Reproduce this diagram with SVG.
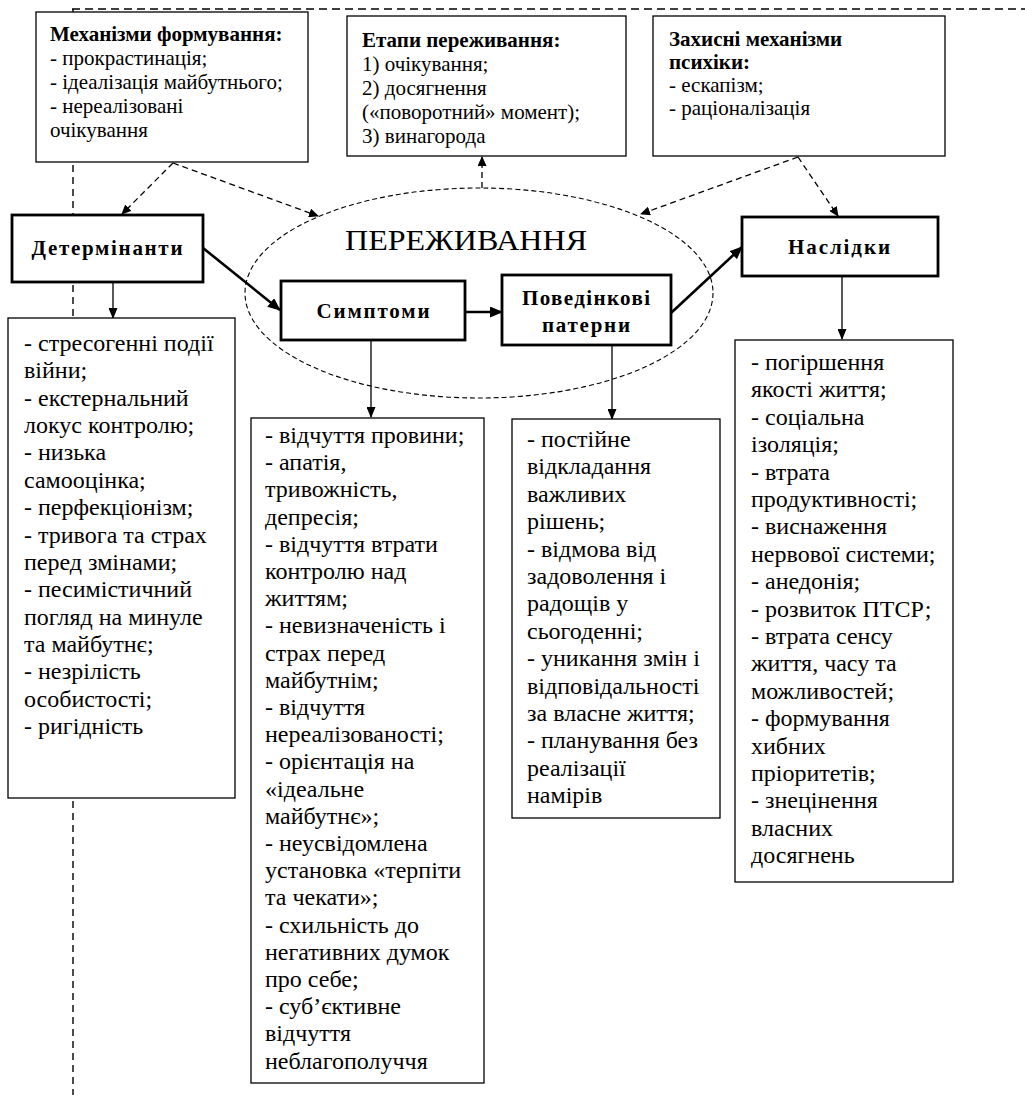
<svg xmlns="http://www.w3.org/2000/svg" width="1025" height="1100" viewBox="0 0 1025 1100">
<style>
text{font-family:"Liberation Serif","DejaVu Serif",serif;fill:#000}
.box{fill:#fff;stroke:#000;stroke-width:1.3}
.nbox{fill:#fff;stroke:#000;stroke-width:2.8}
.top{font-size:21px}
.lst{font-size:24px}
.b{font-weight:bold}
.lbl{font-size:21px;font-weight:bold;text-anchor:middle}
.frame{fill:none;stroke:#000;stroke-width:1.4;stroke-dasharray:8 5}
.dash{fill:none;stroke:#000;stroke-width:1.3;stroke-dasharray:6 4}
.thick{fill:none;stroke:#000;stroke-width:2.6}
.thin{fill:none;stroke:#000;stroke-width:1.3}
</style>
<defs>
<marker id="ah" markerUnits="userSpaceOnUse" markerWidth="13" markerHeight="11" refX="12" refY="5.5" orient="auto"><path d="M0,0 L13,5.5 L0,11 z" fill="#000"/></marker>
<marker id="as" markerUnits="userSpaceOnUse" markerWidth="11" markerHeight="9" refX="10" refY="4.5" orient="auto"><path d="M0,0 L11,4.5 L0,9 z" fill="#000"/></marker>
<marker id="ad" markerUnits="userSpaceOnUse" markerWidth="10" markerHeight="9" refX="9" refY="4.5" orient="auto"><path d="M0,0 L10,4.5 L0,9 z" fill="#000"/></marker>
</defs>
<rect width="1025" height="1100" fill="#fff"/>
<g id="frame">
<path class="frame" d="M72,9 H1025"/>
<path class="frame" d="M73,9 V1095" style="stroke-dasharray:7 5"/>
</g>
<g id="perezhyvannia">
<ellipse cx="479" cy="293" rx="234" ry="105" fill="none" stroke="#000" stroke-width="1.1" stroke-dasharray="5 3"/>
<text x="466" y="250" font-size="29" text-anchor="middle" textLength="242" lengthAdjust="spacingAndGlyphs">ПЕРЕЖИВАННЯ</text>
</g>
<g id="connectors">
<path class="dash" d="M173,163 L122,214" marker-end="url(#ad)"/>
<path class="dash" d="M173,163 L318,216" marker-end="url(#ad)"/>
<path class="dash" d="M482,188 L482,157" marker-end="url(#ad)"/>
<path class="dash" d="M798,157 L641,214" marker-end="url(#ad)"/>
<path class="dash" d="M798,157 L838,216" marker-end="url(#ad)"/>
<path class="thick" d="M203,248 L280,310" marker-end="url(#ah)"/>
<path class="thick" d="M465,312 L502,312" marker-end="url(#ah)"/>
<path class="thick" d="M671,313 L742,247" marker-end="url(#ah)"/>
<path class="thin" d="M113,282 L113,318" marker-end="url(#as)"/>
<path class="thin" d="M371,340 L371,417" marker-end="url(#as)"/>
<path class="thin" d="M612,345 L612,419" marker-end="url(#as)"/>
<path class="thin" d="M842,276 L842,339" marker-end="url(#as)"/>
</g>
<g id="mekhanizmy">
<rect class="box" x="36" y="12" width="272" height="150"/>
<text class="top"><tspan x="50" y="41" class="b">Механізми формування:</tspan><tspan x="50" y="65">- прокрастинація;</tspan><tspan x="50" y="89">- ідеалізація майбутнього;</tspan><tspan x="50" y="113">- нереалізовані</tspan><tspan x="50" y="137">очікування</tspan></text>
</g>
<g id="etapy">
<rect class="box" x="347" y="16" width="279" height="140"/>
<text class="top"><tspan x="362" y="47" class="b">Етапи переживання:</tspan><tspan x="362" y="71">1) очікування;</tspan><tspan x="362" y="95">2) досягнення</tspan><tspan x="362" y="119">(«поворотний» момент);</tspan><tspan x="362" y="143">3) винагорода</tspan></text>
</g>
<g id="zakhysni">
<rect class="box" x="653" y="16" width="292" height="140"/>
<text class="top"><tspan x="669" y="46" class="b">Захисні механізми</tspan><tspan x="669" y="69" class="b">психіки:</tspan><tspan x="669" y="92">- ескапізм;</tspan><tspan x="669" y="115">- раціоналізація</tspan></text>
</g>
<g id="determinanty">
<rect class="nbox" x="12" y="215" width="191" height="67"/>
<text class="lbl" x="107" y="255" textLength="151" lengthAdjust="spacing">Детермінанти</text>
</g>
<g id="symptomy">
<rect class="nbox" x="281" y="281" width="184" height="59"/>
<text class="lbl" x="373" y="318" textLength="113" lengthAdjust="spacing">Симптоми</text>
</g>
<g id="povedinkovi">
<rect class="nbox" x="502" y="275" width="169" height="70"/>
<text class="lbl" x="586" y="305" textLength="128" lengthAdjust="spacing">Поведінкові</text>
<text class="lbl" x="586" y="332" textLength="88" lengthAdjust="spacing">патерни</text>
</g>
<g id="naslidky">
<rect class="nbox" x="742" y="217" width="196" height="59"/>
<text class="lbl" x="839" y="254" textLength="102" lengthAdjust="spacing">Наслідки</text>
</g>
<g id="determinanty-list">
<rect class="box" x="8" y="318" width="227" height="480"/>
<text class="lst"><tspan x="24" y="351">- стресогенні події</tspan><tspan x="24" y="378.4">війни;</tspan><tspan x="24" y="405.7">- екстернальний</tspan><tspan x="24" y="433.1">локус контролю;</tspan><tspan x="24" y="460.4">- низька</tspan><tspan x="24" y="487.8">самооцінка;</tspan><tspan x="24" y="515.1">- перфекціонізм;</tspan><tspan x="24" y="542.5">- тривога та страх</tspan><tspan x="24" y="569.8">перед змінами;</tspan><tspan x="24" y="597.2">- песимістичний</tspan><tspan x="24" y="624.5">погляд на минуле</tspan><tspan x="24" y="651.9">та майбутнє;</tspan><tspan x="24" y="679.2">- незрілість</tspan><tspan x="24" y="706.6">особистості;</tspan><tspan x="24" y="733.9">- ригідність</tspan></text>
</g>
<g id="symptomy-list">
<rect class="box" x="251" y="418" width="233" height="665"/>
<text class="lst"><tspan x="265" y="443">- відчуття провини;</tspan><tspan x="265" y="470.2">- апатія,</tspan><tspan x="265" y="497.4">тривожність,</tspan><tspan x="265" y="524.6">депресія;</tspan><tspan x="265" y="551.8">- відчуття втрати</tspan><tspan x="265" y="579">контролю над</tspan><tspan x="265" y="606.2">життям;</tspan><tspan x="265" y="633.4">- невизначеність і</tspan><tspan x="265" y="660.6">страх перед</tspan><tspan x="265" y="687.8">майбутнім;</tspan><tspan x="265" y="715">- відчуття</tspan><tspan x="265" y="742.2">нереалізованості;</tspan><tspan x="265" y="769.4">- орієнтація на</tspan><tspan x="265" y="796.6">«ідеальне</tspan><tspan x="265" y="823.8">майбутнє»;</tspan><tspan x="265" y="851">- неусвідомлена</tspan><tspan x="265" y="878.2">установка «терпіти</tspan><tspan x="265" y="905.4">та чекати»;</tspan><tspan x="265" y="932.6">- схильність до</tspan><tspan x="265" y="959.8">негативних думок</tspan><tspan x="265" y="987">про себе;</tspan><tspan x="265" y="1014.2">- суб’єктивне</tspan><tspan x="265" y="1041.4">відчуття</tspan><tspan x="265" y="1068.6">неблагополуччя</tspan></text>
</g>
<g id="povedinkovi-list">
<rect class="box" x="512" y="419" width="208" height="399"/>
<text class="lst"><tspan x="527" y="447">- постійне</tspan><tspan x="527" y="474.4">відкладання</tspan><tspan x="527" y="501.8">важливих</tspan><tspan x="527" y="529.2">рішень;</tspan><tspan x="527" y="556.6">- відмова від</tspan><tspan x="527" y="584">задоволення і</tspan><tspan x="527" y="611.4">радощів у</tspan><tspan x="527" y="638.8">сьогоденні;</tspan><tspan x="527" y="666.2">- уникання змін і</tspan><tspan x="527" y="693.6">відповідальності</tspan><tspan x="527" y="721">за власне життя;</tspan><tspan x="527" y="748.4">- планування без</tspan><tspan x="527" y="775.8">реалізації</tspan><tspan x="527" y="803.2">намірів</tspan></text>
</g>
<g id="naslidky-list">
<rect class="box" x="735" y="340" width="218" height="542"/>
<text class="lst"><tspan x="751" y="370">- погіршення</tspan><tspan x="751" y="397.4">якості життя;</tspan><tspan x="751" y="424.8">- соціальна</tspan><tspan x="751" y="452.2">ізоляція;</tspan><tspan x="751" y="479.6">- втрата</tspan><tspan x="751" y="507">продуктивності;</tspan><tspan x="751" y="534.4">- виснаження</tspan><tspan x="751" y="561.8">нервової системи;</tspan><tspan x="751" y="589.2">- анедонія;</tspan><tspan x="751" y="616.6">- розвиток ПТСР;</tspan><tspan x="751" y="644">- втрата сенсу</tspan><tspan x="751" y="671.4">життя, часу та</tspan><tspan x="751" y="698.8">можливостей;</tspan><tspan x="751" y="726.2">- формування</tspan><tspan x="751" y="753.6">хибних</tspan><tspan x="751" y="781">пріоритетів;</tspan><tspan x="751" y="808.4">- знецінення</tspan><tspan x="751" y="835.8">власних</tspan><tspan x="751" y="863.2">досягнень</tspan></text>
</g>
</svg>
